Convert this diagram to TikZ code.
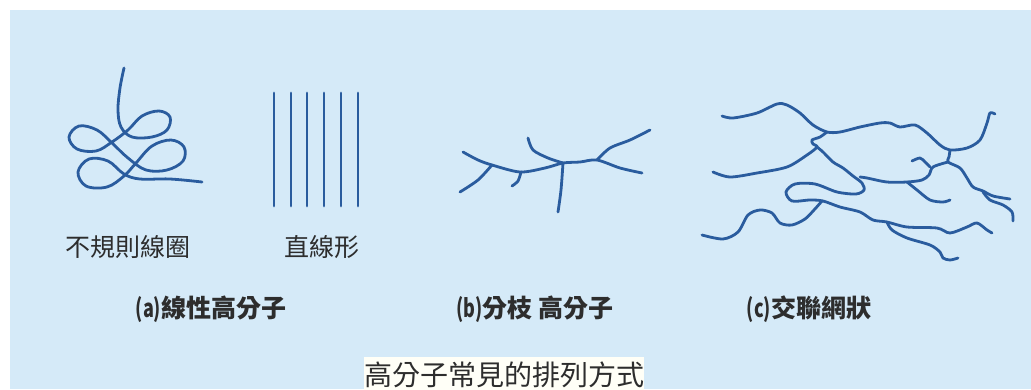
\documentclass[tikz,border=0pt]{standalone}
\usepackage{fontspec}
\newfontfamily\cjk{Noto Sans CJK TC}
\usetikzlibrary{positioning}
\definecolor{panelblue}{RGB}{213,234,248}
\definecolor{chainblue}{RGB}{42,92,158}
\definecolor{inkgray}{RGB}{45,45,45}
\newcommand{\panelmark}[1]{\scalebox{0.72}[1]{(#1)}}
\tikzset{
  chain/.style={draw=chainblue, line width=2.8pt, line cap=round, line join=round},
  tag/.style={font=\cjk\fontsize{25}{30}\selectfont, text=inkgray, inner sep=0pt},
  kind/.style={tag, font=\cjk\bfseries\fontsize{25}{30}\selectfont},
  caption/.style={fill=white!97!yellow, font=\cjk\fontsize{28}{32}\selectfont, text=inkgray,
    minimum width=248pt, minimum height=36pt, inner sep=0pt}
}

\begin{document}
\begin{tikzpicture}[x=1pt, y=-1pt]
  \useasboundingbox (0,0) rectangle (1031,389);
  \fill[white] (0,0) rectangle (1031,389);
  \fill[panelblue] (10,10) rectangle (1031,389);

  % (a) coiled chain
  \draw[chain] plot[smooth, tension=0.6] coordinates {
    (124,68) (120,88) (118,110) (121,127) (132,137) (152,137) (167,130) (170,117)
    (159,111) (142,116) (128,130) (112,142) (96,151) (77,149) (69,137) (79,126)
    (97,130) (112,143) (128,158) (146,170) (167,170) (183,161) (184,147) (171,140)
    (152,146) (136,163) (124,176) (107,187) (86,186) (78,172) (89,159) (108,161)
    (124,174) (140,179) (170,179) (202,182)};

  % (a) straight chains
  \foreach \x in {274,291,307,324,341,358}
    \draw[chain] (\x,93) -- (\x,206);

  % (b) branched chain
  \draw[chain] plot[smooth] coordinates {(463,152) (478,160) (492,165) (520,172) (545,168)
    (563,163) (580,162) (597,160) (620,168) (642,173)};
  \draw[chain] plot[smooth] coordinates {(597,160) (610,148) (630,140) (650,130)};
  \draw[chain] plot[smooth] coordinates {(492,165) (478,180) (460,192)};
  \draw[chain] plot[smooth] coordinates {(521,172) (518,181) (512,186)};
  \draw[chain] plot[smooth] coordinates {(528,138) (533,150) (548,158) (563,163)};
  \draw[chain] plot[smooth] coordinates {(563,163) (561,190) (558,212)};

  % (c) cross-linked network
  \draw[chain] plot[smooth] coordinates {(722,116) (733,118) (757,113) (777,104) (787,105)
    (800,113) (813,125) (827,132) (840,132) (860,127) (880,123) (890,123) (900,127)
    (915,125) (927,133) (940,145) (950,150) (967,148) (980,140) (987,123) (990,113) (995,114)};
  \draw[chain] plot[smooth] coordinates {(713,172) (730,177) (757,173) (787,167) (807,155)
    (817,147) (813,144) (812,140) (820,137) (827,132)};
  \draw[chain] plot[smooth] coordinates {(817,147) (823,152) (833,162) (843,168) (853,176)
    (862,183) (864,190) (856,194) (837,192) (815,184) (795,184) (786,192) (792,201)
    (810,200) (823,201) (840,207) (860,212) (873,220) (887,222) (907,227) (937,228)
    (950,233) (967,227) (977,223) (987,230) (992,233)};
  \draw[chain] plot[smooth] coordinates {(887,222) (892,230) (907,238) (930,245) (940,252)
    (943,258) (950,260) (958,258)};
  \draw[chain] plot[smooth] coordinates {(950,150) (949,157) (948,162) (960,168) (967,178)
    (973,187) (983,191) (993,196) (1010,199)};
  \draw[chain] plot[smooth] coordinates {(983,192) (990,200) (1003,205) (1012,212) (1013,221)};
  \draw[chain] plot[smooth] coordinates {(948,162) (933,167) (929,175) (922,180) (907,182)
    (887,182) (867,178) (860,177)};
  \draw[chain] plot[smooth] coordinates {(907,182) (917,190) (930,200) (943,202) (950,200)};
  \draw[chain] plot[smooth] coordinates {(912,161) (920,158) (925,162) (930,167)};
  \draw[chain] plot[smooth] coordinates {(702,235) (723,239) (738,232) (748,215) (760,210)
    (772,213) (780,223) (792,225) (805,219) (814,210) (822,201)};

  % labels
  \node[tag] (coil) at (128,247) {不規則線圈};
  \node[tag] (rod) at (322,247) {直線形};
  \node[kind] (linear) at (211,309) {\panelmark{a}線性高分子};
  \node[kind] (branch) at (535,309) {\panelmark{b}分枝 高分子};
  \node[kind] (net) at (809,309) {\panelmark{c}交聯網狀};
  \node[caption] (cap) at (504,375) {高分子常見的排列方式};
\end{tikzpicture}
\end{document}
